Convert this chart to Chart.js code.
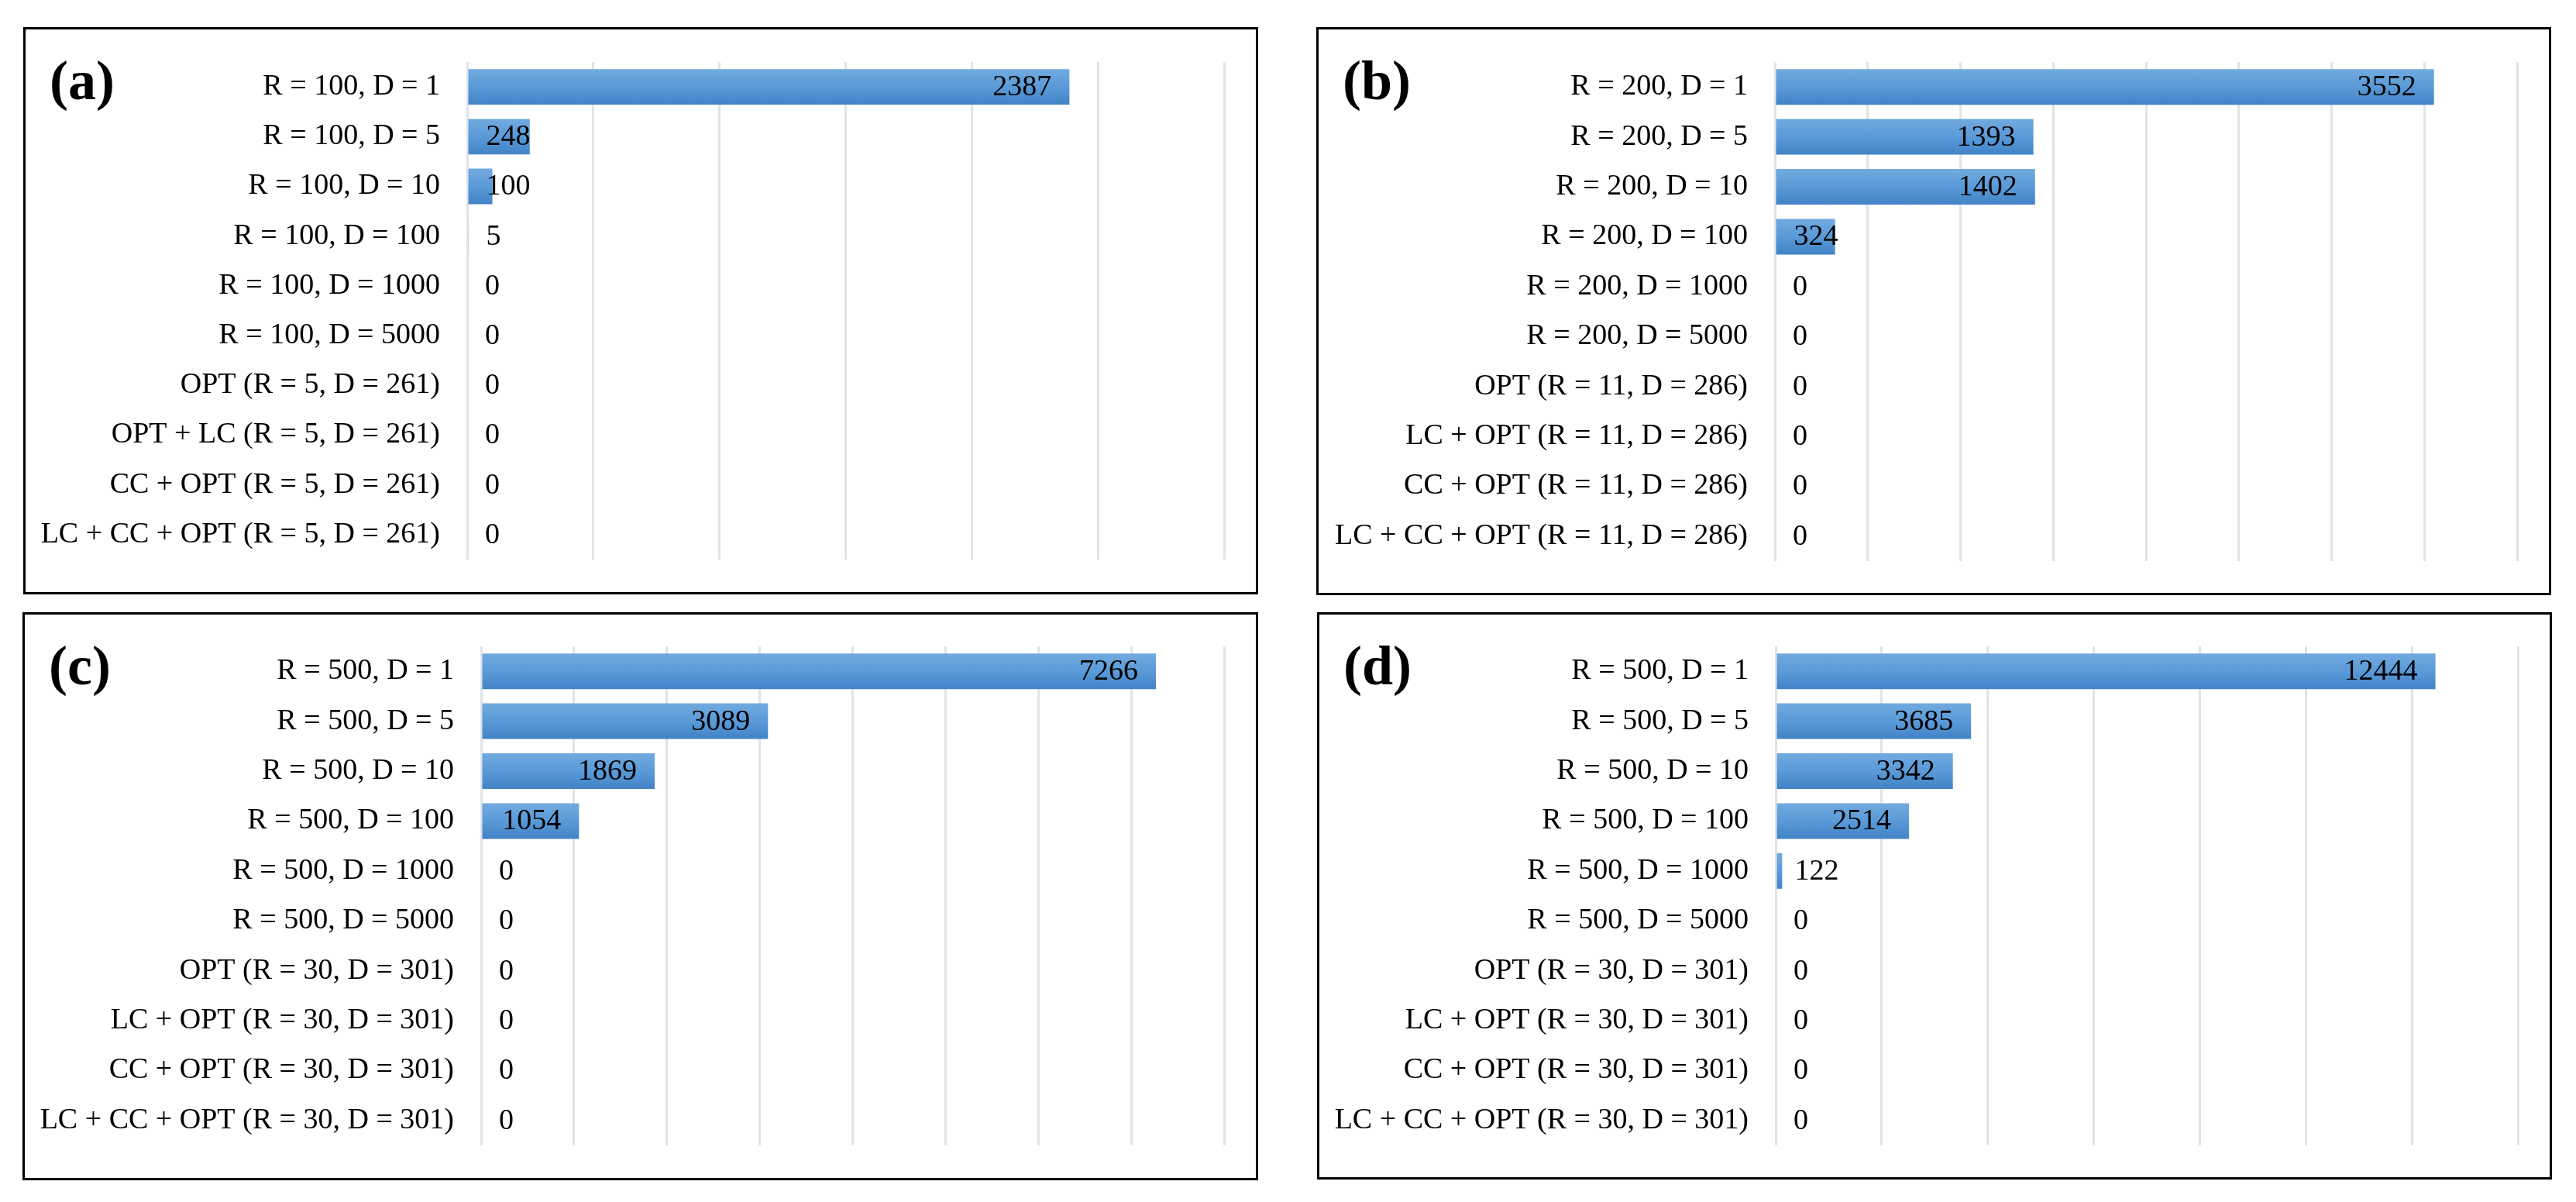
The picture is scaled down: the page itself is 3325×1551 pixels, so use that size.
<!DOCTYPE html>
<html>
<head>
<meta charset="utf-8">
<script src="https://cdn.jsdelivr.net/npm/chart.js@4.4.1/dist/chart.umd.min.js"></script>
<style>
  html, body { margin: 0; padding: 0; background: #ffffff; }
  body { width: 3325px; height: 1551px; position: relative; overflow: hidden; }
  .box { position: absolute; border: 3.5px solid #000; box-sizing: border-box; }
  canvas { position: absolute; }
</style>
</head>
<body>
<script>
// ---------- DATA ----------
const panelLetters = ['(a)', '(b)', '(c)', '(d)'];

const labelsA = ['R = 100, D = 1', 'R = 100, D = 5', 'R = 100, D = 10', 'R = 100, D = 100', 'R = 100, D = 1000', 'R = 100, D = 5000',
  'OPT (R = 5, D = 261)', 'OPT + LC (R = 5, D = 261)', 'CC + OPT (R = 5, D = 261)', 'LC + CC + OPT (R = 5, D = 261)'];
const valuesA = [2387, 248, 100, 5, 0, 0, 0, 0, 0, 0];

const labelsB = ['R = 200, D = 1', 'R = 200, D = 5', 'R = 200, D = 10', 'R = 200, D = 100', 'R = 200, D = 1000', 'R = 200, D = 5000',
  'OPT (R = 11, D = 286)', 'LC + OPT (R = 11, D = 286)', 'CC + OPT (R = 11, D = 286)', 'LC + CC + OPT (R = 11, D = 286)'];
const valuesB = [3552, 1393, 1402, 324, 0, 0, 0, 0, 0, 0];

const labelsC = ['R = 500, D = 1', 'R = 500, D = 5', 'R = 500, D = 10', 'R = 500, D = 100', 'R = 500, D = 1000', 'R = 500, D = 5000',
  'OPT (R = 30, D = 301)', 'LC + OPT (R = 30, D = 301)', 'CC + OPT (R = 30, D = 301)', 'LC + CC + OPT (R = 30, D = 301)'];
const valuesC = [7266, 3089, 1869, 1054, 0, 0, 0, 0, 0, 0];

const labelsD = ['R = 500, D = 1', 'R = 500, D = 5', 'R = 500, D = 10', 'R = 500, D = 100', 'R = 500, D = 1000', 'R = 500, D = 5000',
  'OPT (R = 30, D = 301)', 'LC + OPT (R = 30, D = 301)', 'CC + OPT (R = 30, D = 301)', 'LC + CC + OPT (R = 30, D = 301)'];
const valuesD = [12444, 3685, 3342, 2514, 122, 0, 0, 0, 0, 0];

// value-axis ranges (max, gridline step)
const axisMax = [3000, 4000, 8000, 14000];
const axisStep = [500, 500, 1000, 2000];

// ---------- LAYOUT (page pixels) ----------
const layouts = [
  { box: [32, 37, 1622, 765],   axisX: 603,  gridR: 1580, gridT: 80,  gridB: 722 },
  { box: [1701, 37, 3291, 766], axisX: 2291, gridR: 3249, gridT: 80,  gridB: 724 },
  { box: [31, 792, 1622, 1521], axisX: 621,  gridR: 1580, gridT: 834, gridB: 1478 },
  { box: [1702, 792, 3292, 1520], axisX: 2292, gridR: 3250, gridT: 834, gridB: 1478 }
];

const allLabels = [labelsA, labelsB, labelsC, labelsD];
const allValues = [valuesA, valuesB, valuesC, valuesD];

const FONT = '"Liberation Serif", "Times New Roman", serif';

const gradientPlugin = {
  id: 'barGradient',
  beforeDatasetsDraw(chart) {
    const ctx = chart.ctx;
    const meta = chart.getDatasetMeta(0);
    meta.data.forEach((el) => {
      const top = el.y - el.height / 2, bot = el.y + el.height / 2;
      if (!Number.isFinite(top) || !Number.isFinite(bot)) return;
      const g = ctx.createLinearGradient(0, top, 0, bot);
      g.addColorStop(0, '#72aadf');
      g.addColorStop(0.5, '#5a9ad8');
      g.addColorStop(1, '#4183c6');
      el.options = Object.assign({}, el.options, { backgroundColor: g });
    });
  }
};

const dataLabelPlugin = {
  id: 'endLabels',
  afterDatasetsDraw(chart) {
    const ctx = chart.ctx;
    const meta = chart.getDatasetMeta(0);
    const ds = chart.data.datasets[0];
    ctx.save();
    ctx.font = '38px ' + FONT;
    ctx.fillStyle = '#000';
    ctx.textBaseline = 'middle';
    ctx.textAlign = 'left';
    meta.data.forEach((el, i) => {
      const txt = String(ds.data[i]);
      const w = ctx.measureText(txt).width;
      let x = el.x - 23 - w;
      const minX = el.base + 23;
      if (x < minX) x = minX;
      ctx.fillText(txt, x, el.y + 1);
    });
    ctx.restore();
  }
};

const letterPlugin = {
  id: 'panelLetter',
  afterDraw(chart) {
    const o = chart.options.plugins.panelLetter;
    const ctx = chart.ctx;
    ctx.save();
    ctx.font = 'bold 72px ' + FONT;
    ctx.fillStyle = '#000';
    ctx.textBaseline = 'alphabetic';
    ctx.textAlign = 'left';
    ctx.fillText(o.text, 30, 89);
    ctx.restore();
  }
};

layouts.forEach((L, p) => {
  const [bx0, by0, bx1, by1] = L.box;
  const box = document.createElement('div');
  box.className = 'box';
  box.style.left = (bx0 - 1.75) + 'px';
  box.style.top = (by0 - 1.75) + 'px';
  box.style.width = (bx1 - bx0 + 3.5) + 'px';
  box.style.height = (by1 - by0 + 3.5) + 'px';
  document.body.appendChild(box);

  const cx0 = bx0 + 2, cy0 = by0 + 2;
  const cw = bx1 - bx0 - 4, ch = by1 - by0 - 4;
  const cv = document.createElement('canvas');
  cv.width = cw; cv.height = ch;
  cv.style.left = cx0 + 'px';
  cv.style.top = cy0 + 'px';
  cv.style.width = cw + 'px';
  cv.style.height = ch + 'px';
  document.body.appendChild(cv);

  new Chart(cv.getContext('2d'), {
    type: 'bar',
    data: {
      labels: allLabels[p],
      datasets: [{
        data: allValues[p],
        barPercentage: 0.714,
        categoryPercentage: 1.0,
        borderWidth: 0,
        backgroundColor: () => '#5b9bd5'
      }]
    },
    options: {
      indexAxis: 'y',
      responsive: false,
      animation: false,
      devicePixelRatio: 1,
      layout: {
        padding: {
          left: 0,
          top: L.gridT - cy0,
          bottom: (cy0 + ch) - L.gridB,
          right: (cx0 + cw) - L.gridR
        }
      },
      plugins: {
        legend: { display: false },
        tooltip: { enabled: false },
        panelLetter: { text: panelLetters[p] }
      },
      scales: {
        x: {
          min: 0,
          max: axisMax[p],
          ticks: { display: false, stepSize: axisStep[p] },
          grid: { color: '#dfe3ea', lineWidth: 3, drawTicks: false },
          border: { display: false },
          afterFit: (s) => { s.height = 0; s.paddingLeft = 0; s.paddingRight = 0; }
        },
        y: {
          grid: { display: false, drawTicks: false },
          border: { display: false },
          ticks: { color: '#000', font: { family: FONT, size: 38 }, padding: 35, autoSkip: false },
          afterFit: (s) => { s.width = L.axisX - cx0; s.paddingTop = 0; s.paddingBottom = 0; }
        }
      }
    },
    plugins: [gradientPlugin, dataLabelPlugin, letterPlugin]
  });
});
</script>
</body>
</html>
